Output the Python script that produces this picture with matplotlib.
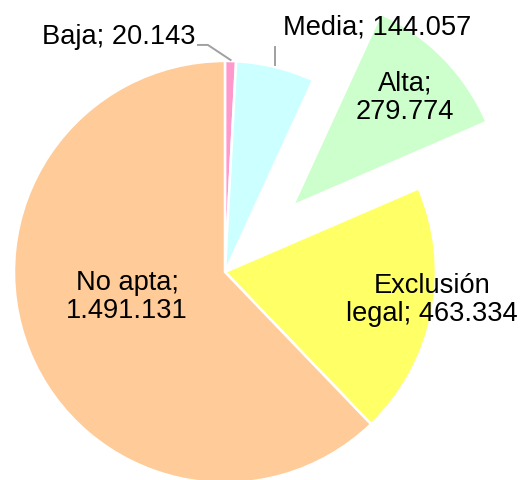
import numpy as np
import matplotlib.pyplot as plt

# datos
categorias = ["Baja", "Media", "Alta", "Exclusión legal", "No apta"]
valores = [20143, 144057, 279774, 463334, 1491131]
etiquetas = ["Baja; 20.143", "Media; 144.057", "Alta;\n279.774",
             "Exclusión\nlegal; 463.334", "No apta;\n1.491.131"]
colores = ["#FF99CC", "#CCFFFF", "#CCFFCC", "#FFFF66", "#FFCC99"]
explode = [0, 0, 0.45, 0, 0]

plt.rcParams["font.family"] = ["Liberation Sans", "DejaVu Sans"]

fig = plt.figure(figsize=(5.2, 4.8), dpi=100)
ax = fig.add_axes([0, 0, 1, 1])

wedges, _ = ax.pie(valores, colors=colores, explode=explode, startangle=90,
                   counterclock=False, radius=1.0,
                   wedgeprops=dict(edgecolor="white", linewidth=1.8))

ax.set_xlim(-1.066, 1.398)
ax.set_ylim(-0.986, 1.289)
ax.set_aspect("equal")
ax.axis("off")

fs = 19.6


def edge_point(w, r=1.0):
    ang = np.deg2rad((w.theta1 + w.theta2) / 2)
    cx, cy = w.center
    return cx + r * np.cos(ang), cy + r * np.sin(ang)


# Baja: etiqueta fuera con línea guía
bx, by = edge_point(wedges[0], 1.005)
ax.plot([bx, -0.081, -0.128], [by, 1.076, 1.076], color="#A0A0A0", lw=1.4)
ax.text(-0.142, 1.114, etiquetas[0], ha="right", va="center", fontsize=fs)

# Media: etiqueta fuera con línea guía
mx, my = edge_point(wedges[1], 1.01)
ax.plot([mx - 0.005, mx - 0.005], [my, 1.066], color="#A0A0A0", lw=1.4)
ax.text(0.275, 1.161, etiquetas[1], ha="left", va="center", fontsize=fs)

# etiquetas dentro
ax.text(0.853, 0.825, etiquetas[2], ha="center", va="center",
        fontsize=fs, linespacing=1.1)
ax.text(0.981, -0.133, etiquetas[3], ha="center", va="center",
        fontsize=fs, linespacing=1.1)
ax.text(-0.464, -0.118, etiquetas[4], ha="center", va="center",
        fontsize=fs, linespacing=1.1)

fig.savefig("out.png", dpi=100)
